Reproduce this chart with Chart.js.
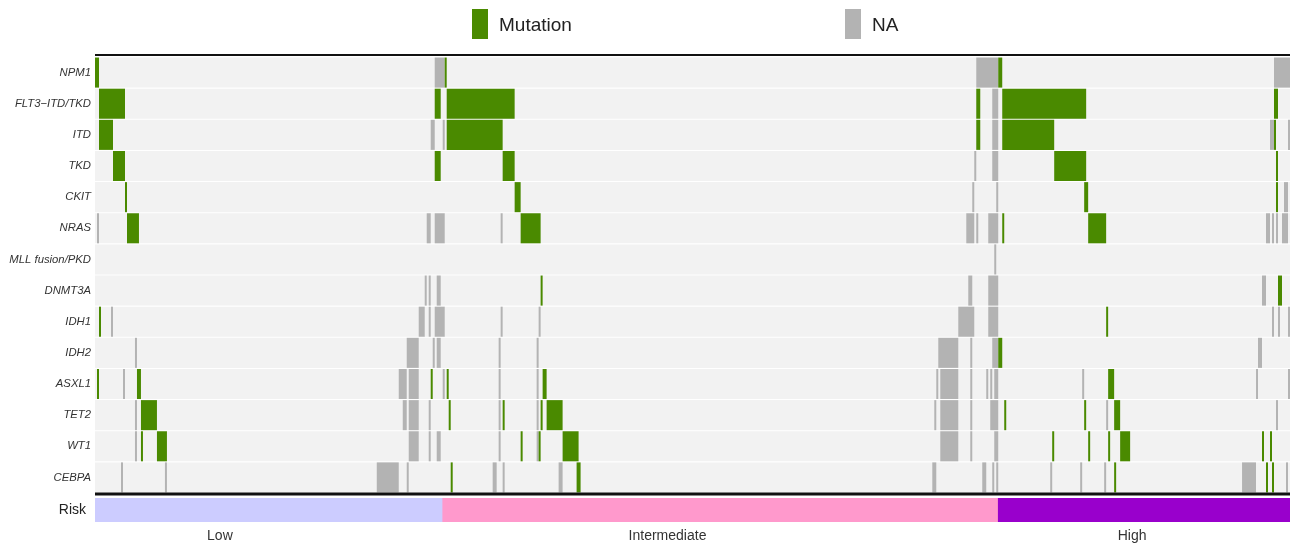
<!DOCTYPE html>
<html>
<head>
<meta charset="utf-8">
<title>Mutation landscape by risk group</title>
<script src="https://cdn.jsdelivr.net/npm/chart.js@4.4.0/dist/chart.umd.min.js"></script>
<style>
  html, body { margin: 0; padding: 0; background: #ffffff; }
  #wrap { position: relative; width: 1290px; height: 545px; overflow: hidden;
          font-family: "Liberation Sans", Arial, sans-serif; }
  #main { position: absolute; left: 0; top: 0; }
  #risk { position: absolute; left: 0; top: 493px; }
  #legend { position: absolute; left: 472px; top: 9px; display: flex; }
  #legend .item { display: flex; align-items: center; height: 30px; }
  #legend .item:first-child { width: 373px; }
  #legend .box { width: 16px; height: 30px; }
  #legend .lbl { margin-left: 11px; font-size: 19px; color: #222; line-height: 30px; padding-top: 2px; }
</style>
</head>
<body>
<div id="wrap">
  <canvas id="main" width="1290" height="496"></canvas>
  <canvas id="risk" width="1290" height="52"></canvas>
  <div id="legend"></div>
</div>
<script>
// Gene tracks, top to bottom
const genes = ['NPM1', 'FLT3\u2212ITD/TKD', 'ITD', 'TKD', 'CKIT', 'NRAS', 'MLL fusion/PKD',
               'DNMT3A', 'IDH1', 'IDH2', 'ASXL1', 'TET2', 'WT1', 'CEBPA'];

// Number of patients along the horizontal axis (sorted columns)
const nSamples = 598;

// Mutated patients per gene: [first, end) runs of column indices, one list per gene
const mutationRuns = [
  [[0,2],[175,176],[452,454]],
  [[2,15],[170,173],[176,210],[441,443],[454,496],[590,592]],
  [[2,9],[176,204],[441,443],[454,480],[590,591]],
  [[9,15],[170,173],[204,210],[480,496],[591,592]],
  [[15,16],[210,213],[495,497],[591,592]],
  [[16,22],[213,223],[454,455],[497,506]],
  [],
  [[223,224],[592,594]],
  [[2,3],[506,507]],
  [[452,454]],
  [[1,2],[21,23],[168,169],[176,177],[224,226],[507,510]],
  [[23,31],[177,178],[204,205],[223,224],[226,234],[455,456],[495,496],[510,513]],
  [[23,24],[31,36],[213,214],[222,223],[234,242],[479,480],[497,498],[507,508],[513,518],[584,585],[588,589]],
  [[178,179],[241,243],[510,511],[586,587],[589,590]]
];

// Patients without data per gene: [first, end) runs, one list per gene
const naRuns = [
  [[170,175],[441,452],[590,598]],
  [[449,452]],
  [[168,170],[174,175],[449,452],[588,590],[597,598]],
  [[440,441],[449,452]],
  [[439,440],[451,452],[595,597]],
  [[1,2],[166,168],[170,175],[203,204],[436,440],[441,442],[447,452],[586,588],[589,590],[591,592],[594,597]],
  [[450,451]],
  [[165,166],[167,168],[171,173],[437,439],[447,452],[584,586]],
  [[8,9],[162,165],[167,168],[170,175],[203,204],[222,223],[432,440],[447,452],[589,590],[592,593],[597,598]],
  [[20,21],[156,162],[169,170],[171,173],[202,203],[221,222],[422,432],[438,439],[449,452],[582,584]],
  [[14,15],[152,156],[157,162],[174,175],[202,203],[221,222],[421,422],[423,432],[438,439],[446,447],[448,449],[450,452],[494,495],[581,582],[597,598]],
  [[20,21],[154,156],[157,162],[167,168],[202,203],[221,222],[420,421],[423,432],[438,439],[448,452],[506,507],[591,592]],
  [[20,21],[157,162],[167,168],[171,173],[202,203],[221,222],[423,432],[438,439],[450,452]],
  [[13,14],[35,36],[141,152],[156,157],[199,201],[204,205],[232,234],[419,421],[444,446],[449,450],[451,452],[478,479],[493,494],[505,506],[574,581],[596,597]]
];

// Risk annotation
const riskGroups = ['Low', 'Intermediate', 'High'];
const riskRuns = [[0,174], [174,452], [452,598]];
const riskLabelAt = [62.5, 286.5, 519];

const GREEN = '#4a8a00';
const GREY = '#b3b3b3';
const TRACK = '#f2f2f2';
const RISK_COLORS = ['#ccccff', '#ff99cc', '#9900cc'];
const FONT = '"Liberation Sans", Arial, Helvetica, sans-serif';

function toBars(runs) {
  const out = [];
  runs.forEach((list, i) => list.forEach(r => out.push({ y: genes[i], x: r })));
  return out;
}

// Keep the category axis from reserving extra room above/below for its labels
function fixedAxisWidth(s) {
  s.width = 95;
  s.paddingTop = 0;
  s.paddingBottom = 0;
}

// Black rules above and below the gene tracks
const frameRules = {
  id: 'frameRules',
  afterDatasetsDraw(chart) {
    const { ctx, chartArea: a } = chart;
    ctx.save();
    ctx.fillStyle = '#111';
    ctx.fillRect(a.left, a.top - 3, a.right - a.left, 2);
    ctx.fillRect(a.left, a.bottom - 0.5, a.right - a.left, 3);
    ctx.restore();
  }
};

const barCommon = { barPercentage: 0.965, categoryPercentage: 1, grouped: false, borderWidth: 0 };

const mainChart = new Chart(document.getElementById('main'), {
  type: 'bar',
  data: {
    labels: genes,
    datasets: [
      Object.assign({ label: 'Mutation', order: 1, data: toBars(mutationRuns), backgroundColor: GREEN }, barCommon),
      Object.assign({ label: 'NA', order: 2, data: toBars(naRuns), backgroundColor: GREY }, barCommon),
      Object.assign({ label: 'track', order: 3, data: genes.map(g => ({ y: g, x: [0, nSamples] })),
                      backgroundColor: TRACK }, barCommon)
    ]
  },
  options: {
    indexAxis: 'y',
    responsive: false,
    animation: false,
    layout: { padding: { top: 57, bottom: 3, left: 0, right: 0 } },
    plugins: { legend: { display: false }, tooltip: { enabled: false } },
    scales: {
      x: { type: 'linear', min: 0, max: nSamples, display: false },
      y: {
        type: 'category',
        grid: { display: false, drawTicks: false },
        border: { display: false },
        ticks: { color: '#333', padding: 4, autoSkip: false,
                 font: { family: FONT, size: 11.3, style: 'italic' } },
        afterFit: fixedAxisWidth
      }
    }
  },
  plugins: [frameRules]
});

new Chart(document.getElementById('risk'), {
  type: 'bar',
  data: {
    labels: ['Risk'],
    datasets: [{
      label: 'Risk',
      data: riskRuns.map(r => ({ y: 'Risk', x: r })),
      backgroundColor: RISK_COLORS,
      barPercentage: 1, categoryPercentage: 1, borderWidth: 0
    }]
  },
  options: {
    indexAxis: 'y',
    responsive: false,
    animation: false,
    layout: { padding: { top: 5, bottom: 0, left: 0, right: 0 } },
    plugins: { legend: { display: false }, tooltip: { enabled: false } },
    scales: {
      x: {
        type: 'linear', min: 0, max: nSamples,
        grid: { display: false, drawTicks: false },
        border: { display: false },
        afterBuildTicks(s) { s.ticks = riskLabelAt.map(v => ({ value: v })); },
        ticks: { autoSkip: false, maxRotation: 0, padding: 6, color: '#333',
                 font: { family: FONT, size: 14 },
                 callback: (v, i) => riskGroups[i] },
        afterFit(s) { s.height = 23; s.paddingLeft = 0; s.paddingRight = 0; }
      },
      y: {
        type: 'category',
        grid: { display: false, drawTicks: false },
        border: { display: false },
        ticks: { color: '#222', padding: 9, font: { family: FONT, size: 14 } },
        afterFit: fixedAxisWidth
      }
    }
  }
});

// Legend built from the chart's own series
const legendEl = document.getElementById('legend');
mainChart.data.datasets.filter(d => d.label !== 'track').forEach(d => {
  const item = document.createElement('div');
  item.className = 'item';
  const box = document.createElement('div');
  box.className = 'box';
  box.style.background = d.backgroundColor;
  const lbl = document.createElement('span');
  lbl.className = 'lbl';
  lbl.textContent = d.label;
  item.appendChild(box);
  item.appendChild(lbl);
  legendEl.appendChild(item);
});
</script>
</body>
</html>
